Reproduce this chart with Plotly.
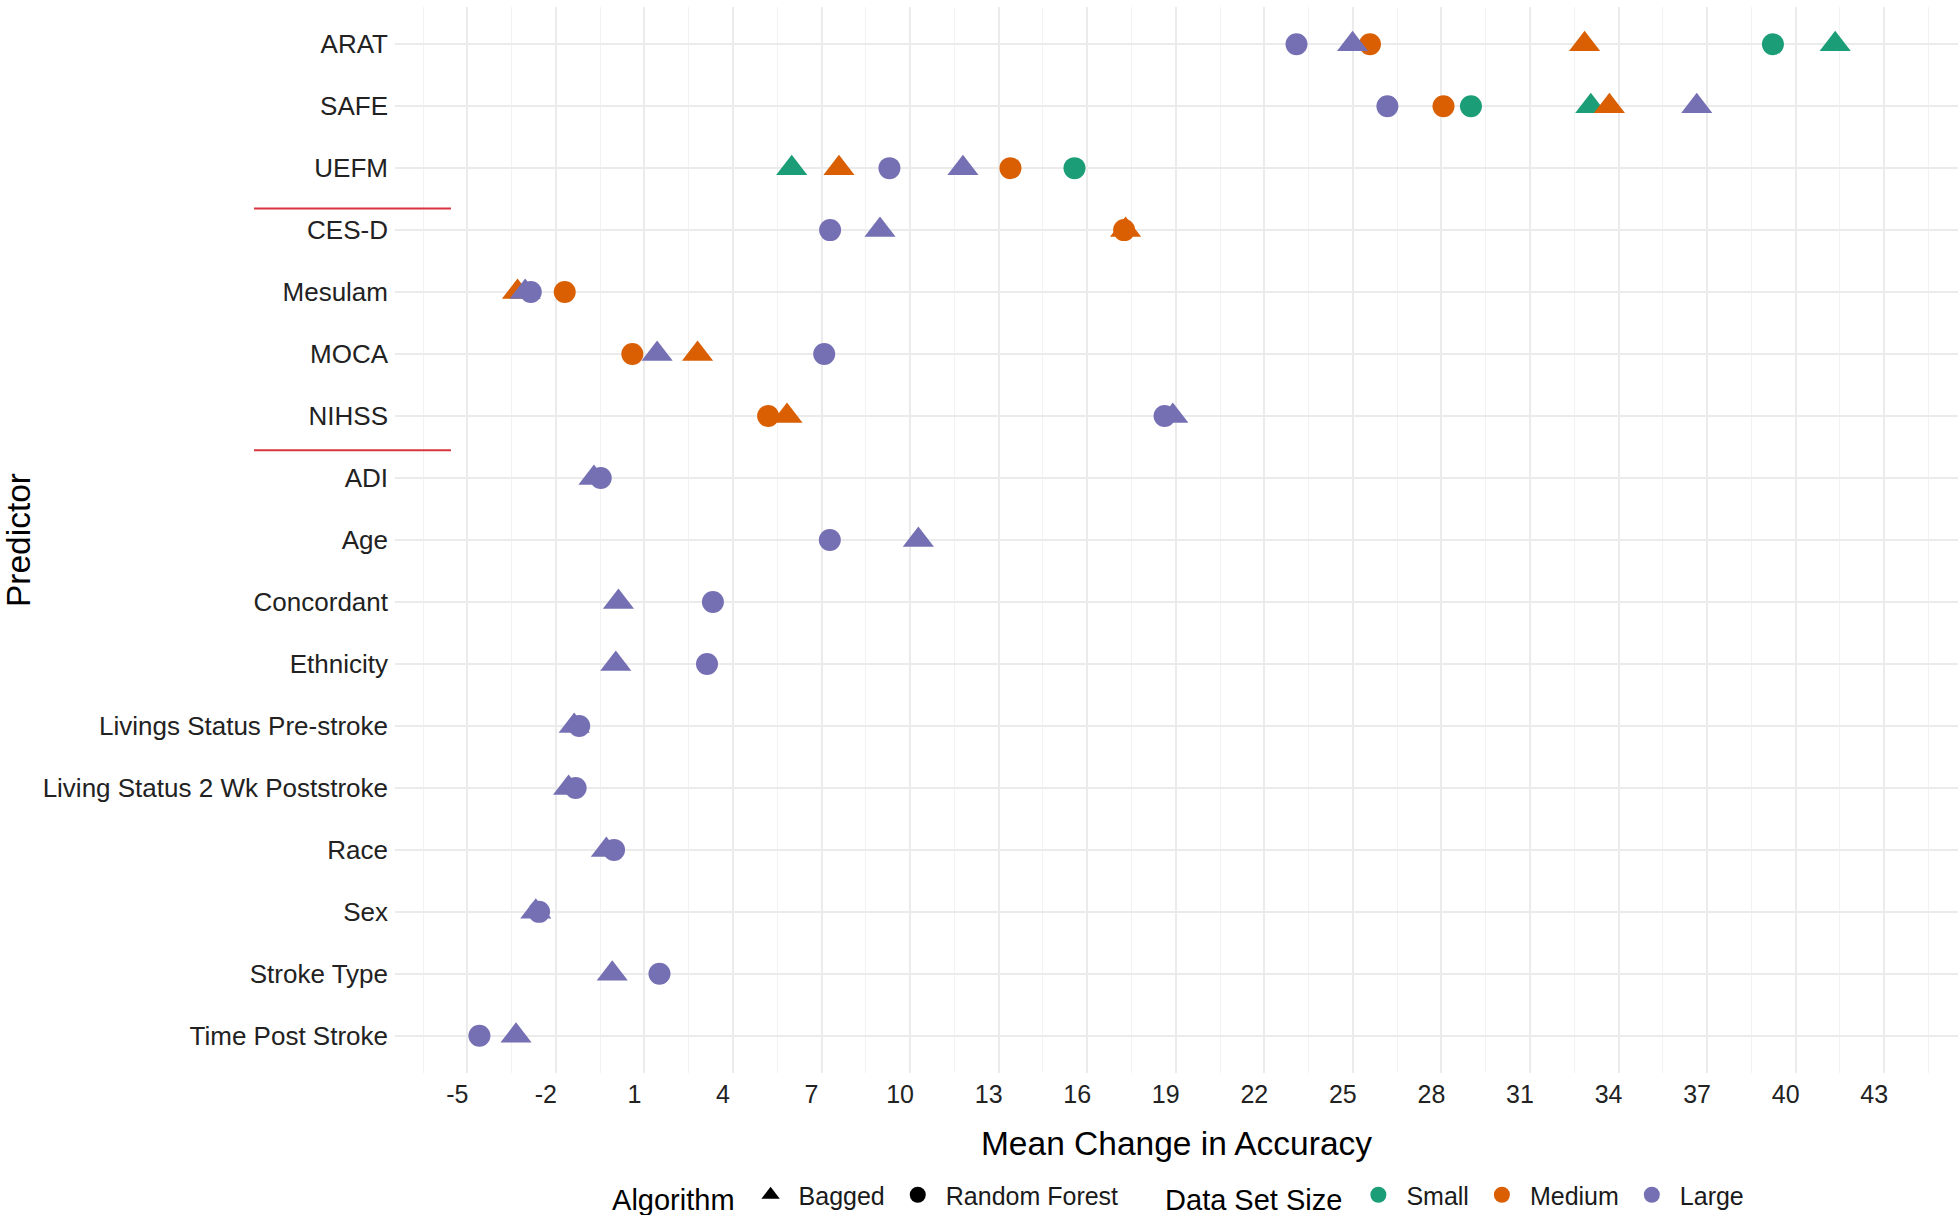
import plotly.graph_objects as go

# ---------------- data ----------------
predictors = ["ARAT", "SAFE", "UEFM", "CES-D", "Mesulam", "MOCA", "NIHSS", "ADI", "Age",
              "Concordant", "Ethnicity", "Livings Status Pre-stroke",
              "Living Status 2 Wk Poststroke", "Race", "Sex", "Stroke Type", "Time Post Stroke"]

small_predictors = ["ARAT", "SAFE", "UEFM"]
medium_predictors = ["ARAT", "SAFE", "UEFM", "CES-D", "Mesulam", "MOCA", "NIHSS"]
large_predictors = predictors

small_bagged = [41.34, 33.06, 5.99]
small_rf = [39.23, 29.00, 15.57]

medium_bagged = [32.85, 33.69, 7.59, 17.30, -3.30, 2.80, 5.83]
medium_rf = [25.58, 28.07, 13.40, 17.25, -1.70, 0.59, 5.19]

large_bagged = [24.99, 36.65, 11.79, 8.98, -3.04, 1.43, 18.90, -0.71, 10.28,
                0.12, 0.03, -1.38, -1.57, -0.29, -2.68, -0.09, -3.35]
large_rf = [23.09, 26.17, 9.30, 7.29, -2.85, 7.09, 18.62, -0.48, 7.28,
            3.32, 3.12, -1.21, -1.33, -0.03, -2.57, 1.51, -4.59]

x_ticks = [-5, -2, 1, 4, 7, 10, 13, 16, 19, 22, 25, 28, 31, 34, 37, 40, 43]
divider_positions = [2.65, 6.55]   # red separators between predictor groups

size_names = ["Small", "Medium", "Large"]
algo_names = ["Bagged", "Random Forest"]

# ---------------- styles ----------------
colors = {"Small": "#1B9E77", "Medium": "#D95F02", "Large": "#7570B3"}
symbols = {"Bagged": "triangle-up", "Random Forest": "circle"}
msize = {"Bagged": 27, "Random Forest": 22}
FONT = "Liberation Sans, Arial, sans-serif"

series = [
    ("Small", "Random Forest", small_predictors, small_rf),
    ("Small", "Bagged", small_predictors, small_bagged),
    ("Medium", "Random Forest", medium_predictors, medium_rf),
    ("Medium", "Bagged", medium_predictors, medium_bagged),
    ("Large", "Bagged", large_predictors, large_bagged),
    ("Large", "Random Forest", large_predictors, large_rf),
]

fig = go.Figure()
for size, algo, preds, vals in series:
    fig.add_trace(go.Scatter(
        x=vals, y=preds, mode="markers",
        marker=dict(color=colors[size], symbol=symbols[algo], size=msize[algo],
                    line=dict(width=0)),
        name=f"{size} {algo}", showlegend=False,
    ))

# legend entries
for algo in algo_names:
    fig.add_trace(go.Scatter(
        x=[None], y=[None], mode="markers", name=algo,
        marker=dict(color="black", symbol=symbols[algo], size=16),
        legend="legend",
    ))
for size in size_names:
    fig.add_trace(go.Scatter(
        x=[None], y=[None], mode="markers", name=size,
        marker=dict(color=colors[size], symbol="circle", size=16),
        legend="legend2",
    ))

for yp in divider_positions:
    fig.add_shape(type="line", xref="paper", yref="y",
                  x0=-0.0902, x1=0.0358, y0=yp, y1=yp,
                  line=dict(color="#D9343F", width=2))

grid = "#EBEBEB"
fig.update_layout(
    width=1960, height=1215,
    margin=dict(l=395, r=2, t=7, b=142, autoexpand=False),
    paper_bgcolor="white", plot_bgcolor="white",
    font=dict(family=FONT, size=26, color="#1a1a1a"),
    xaxis=dict(
        range=[-7.45, 45.5], tickmode="array", tickvals=x_ticks,
        ticktext=[str(t) for t in x_ticks], automargin=False,
        showgrid=True, gridcolor=grid, gridwidth=1.6, zeroline=False,
        showline=False, ticks="", ticklabelshift=-10, ticklabelstandoff=4,
        tickfont=dict(size=25, color="#222222"),
        minor=dict(tickmode="linear", tick0=-3.5, dtick=3, showgrid=True,
                   gridcolor="#F2F2F2", gridwidth=1.3),
        title=dict(text="Mean Change in Accuracy", font=dict(size=33.5, color="black"),
                   standoff=24),
    ),
    yaxis=dict(
        type="category", categoryorder="array", categoryarray=predictors,
        range=[16.6, -0.6], automargin=False,
        showgrid=True, gridcolor=grid, gridwidth=1.6, zeroline=False,
        showline=False, ticks="", ticklabelstandoff=6,
        tickfont=dict(size=26, color="#222222"),
        title=dict(text="Predictor", font=dict(size=33.5, color="black"), standoff=8),
    ),
    legend=dict(
        orientation="h", x=0.1376, xanchor="left", y=-0.1154, yanchor="middle",
        title=dict(text="Algorithm", side="left", font=dict(size=29, color="black")),
        font=dict(size=25, color="#1a1a1a"), bgcolor="rgba(0,0,0,0)",
        itemwidth=46,
    ),
    legend2=dict(
        orientation="h", x=0.4914, xanchor="left", y=-0.1154, yanchor="middle",
        title=dict(text="Data Set Size", side="left", font=dict(size=29, color="black")),
        font=dict(size=25, color="#1a1a1a"), bgcolor="rgba(0,0,0,0)",
        itemwidth=46,
    ),
    showlegend=True,
)

fig.write_html("out.html", config={"displayModeBar": False},
               post_script="document.body.style.margin='0';document.body.style.overflow='hidden';")
